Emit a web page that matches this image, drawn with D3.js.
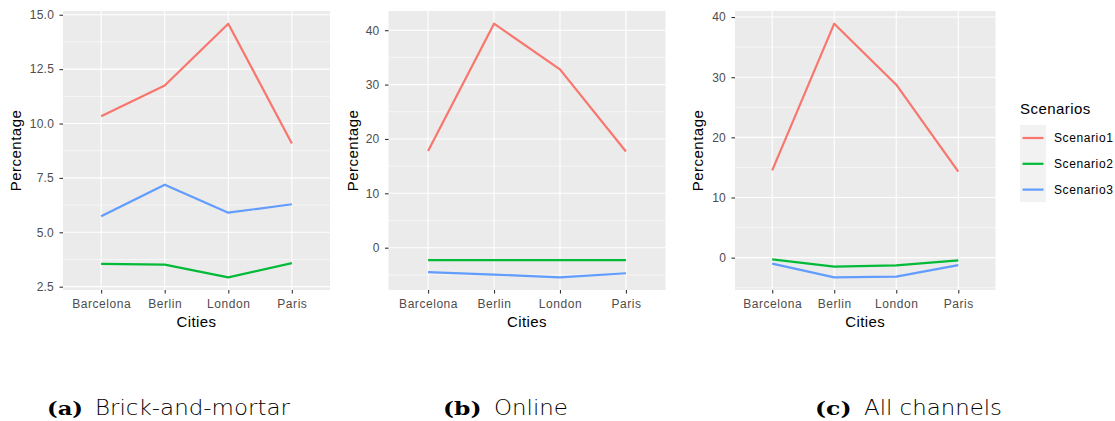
<!DOCTYPE html>
<html><head><meta charset="utf-8">
<script src="https://cdn.jsdelivr.net/npm/d3@7"></script>
<style>body{margin:0;background:#fff;} svg{display:block;}</style>
</head><body>
<svg id="c" width="1115" height="421"></svg>
<script>
const cities = ["Barcelona", "Berlin", "London", "Paris"];
const scenarios = ["Scenario1", "Scenario2", "Scenario3"];
const colors = ["#F8766D", "#00BA38", "#619CFF"];

// (a) Brick-and-mortar
const brickS1 = [10.33, 11.75, 14.59, 9.08];
const brickS2 = [3.55, 3.51, 2.93, 3.58];
const brickS3 = [5.74, 7.19, 5.90, 6.29];
const brickTicks = [2.5, 5, 7.5, 10, 12.5, 15];
const brickTickLabels = ["2.5", "5.0", "7.5", "10.0", "12.5", "15.0"];

// (b) Online
const onlineS1 = [17.8, 41.2, 32.8, 17.7];
const onlineS2 = [-2.3, -2.3, -2.3, -2.3];
const onlineS3 = [-4.5, -4.95, -5.45, -4.7];
const onlineTicks = [0, 10, 20, 30, 40];
const onlineTickLabels = ["0", "10", "20", "30", "40"];

// (c) All channels
const allS1 = [14.5, 38.9, 28.75, 14.3];
const allS2 = [-0.28, -1.5, -1.28, -0.45];
const allS3 = [-1.0, -3.27, -3.15, -1.23];
const allTicks = [0, 10, 20, 30, 40];
const allTickLabels = ["0", "10", "20", "30", "40"];

const captionLetters = ["(a)", "(b)", "(c)"];
const captionTexts = ["Brick-and-mortar", "Online", "All channels"];

const panels = [
  {series: [brickS1, brickS2, brickS3], ticks: brickTicks, labels: brickTickLabels,
   left: 63, right: 330, ylabX: 16,
   cap: {lx: 47, lw: 36, tx: 95, tw: 195}},
  {series: [onlineS1, onlineS2, onlineS3], ticks: onlineTicks, labels: onlineTickLabels,
   left: 388.5, right: 665.5, ylabX: 353,
   cap: {lx: 443, lw: 38.5, tx: 494, tw: 74}},
  {series: [allS1, allS2, allS3], ticks: allTicks, labels: allTickLabels,
   left: 735, right: 995.5, ylabX: 698,
   cap: {lx: 815, lw: 36.5, tx: 864, tw: 138}}
];
const panelTop = 11, panelBottom = 290;
const font = "'Liberation Sans', Arial, Helvetica, sans-serif";

const svg = d3.select("#c");

panels.forEach((p, pi) => {
  const g = svg.append("g");
  const x = d3.scalePoint().domain(cities).range([p.left, p.right]).padding(0.6);
  const all = p.series.flat();
  const lo = d3.min(all), hi = d3.max(all), sp = hi - lo;
  const y = d3.scaleLinear().domain([lo - 0.05 * sp, hi + 0.05 * sp]).range([panelBottom, panelTop]);

  g.append("rect").attr("x", p.left).attr("y", panelTop)
    .attr("width", p.right - p.left).attr("height", panelBottom - panelTop).attr("fill", "#EBEBEB");

  // minor gridlines
  const step = p.ticks[1] - p.ticks[0];
  const minors = [];
  const [d0, d1] = y.domain();
  for (let v = p.ticks[0] - step / 2; v <= p.ticks[p.ticks.length - 1] + step / 2 + 1e-9; v += step) {
    if (v >= d0 && v <= d1) minors.push(v);
  }
  g.selectAll(".minor").data(minors).enter().append("line")
    .attr("x1", p.left).attr("x2", p.right)
    .attr("y1", d => y(d)).attr("y2", d => y(d))
    .attr("stroke", "#fff").attr("stroke-width", 0.55);

  g.selectAll(".major").data(p.ticks).enter().append("line")
    .attr("x1", p.left).attr("x2", p.right)
    .attr("y1", d => y(d)).attr("y2", d => y(d))
    .attr("stroke", "#fff").attr("stroke-width", 1.1);

  g.selectAll(".vmajor").data(cities).enter().append("line")
    .attr("x1", d => x(d)).attr("x2", d => x(d))
    .attr("y1", panelTop).attr("y2", panelBottom)
    .attr("stroke", "#fff").attr("stroke-width", 1.1);

  // lines
  const line = d3.line().x((d, i) => x(cities[i])).y(d => y(d));
  p.series.forEach((s, si) => {
    g.append("path").datum(s).attr("d", line)
      .attr("fill", "none").attr("stroke", colors[si]).attr("stroke-width", 2.2)
      .attr("stroke-linejoin", "round");
  });

  // y axis
  const yAxis = d3.axisLeft(y).tickValues(p.ticks).tickSize(3.5).tickPadding(5.5)
    .tickFormat((d, i) => p.labels[i]);
  const ya = g.append("g").attr("transform", `translate(${p.left},0)`).call(yAxis);
  ya.select(".domain").remove();
  ya.selectAll("line").attr("stroke", "#333").attr("stroke-width", 1.1);
  ya.selectAll("text").attr("fill", "#4D4D4D").style("font-family", font).style("font-size", "12px")
    .style("letter-spacing", "0.2px");

  // x axis
  const xAxis = d3.axisBottom(x).tickSize(3.5).tickPadding(6);
  const xa = g.append("g").attr("transform", `translate(0,${panelBottom})`).call(xAxis);
  xa.select(".domain").remove();
  xa.selectAll("line").attr("stroke", "#333").attr("stroke-width", 1.1);
  xa.selectAll("text").attr("fill", "#4D4D4D").style("font-family", font).style("font-size", "12px")
    .style("letter-spacing", "0.55px");

  // axis titles
  g.append("text").attr("x", (p.left + p.right) / 2).attr("y", 327)
    .attr("text-anchor", "middle").style("font-family", font).style("font-size", "15px")
    .style("letter-spacing", "0.4px").text("Cities");
  g.append("text").attr("transform", `translate(${p.ylabX + 5},${(panelTop + panelBottom) / 2}) rotate(-90)`)
    .attr("text-anchor", "middle").style("font-family", font).style("font-size", "15px")
    .style("letter-spacing", "0.5px").text("Percentage");

  // caption
  g.append("text").attr("x", p.cap.lx).attr("y", 415)
    .style("font-family", "'DejaVu Serif', serif").style("font-weight", "bold").style("font-size", "19px")
    .attr("textLength", p.cap.lw).attr("lengthAdjust", "spacingAndGlyphs")
    .text(captionLetters[pi]);
  g.append("text").attr("x", p.cap.tx).attr("y", 415)
    .style("font-family", "'DejaVu Sans', sans-serif").style("font-weight", "200").style("font-size", "21px")
    .attr("textLength", p.cap.tw).attr("lengthAdjust", "spacingAndGlyphs")
    .text(captionTexts[pi]);
});

// legend
const lg = svg.append("g");
lg.append("text").attr("x", 1020).attr("y", 114).style("font-family", font).style("font-size", "15px")
  .style("letter-spacing", "0.45px").text("Scenarios");
lg.append("rect").attr("x", 1020).attr("y", 125).attr("width", 26).attr("height", 77).attr("fill", "#F2F2F2");
scenarios.forEach((s, i) => {
  const yy = 138 + i * 25.8;
  lg.append("line").attr("x1", 1022.5).attr("x2", 1043.5).attr("y1", yy).attr("y2", yy)
    .attr("stroke", colors[i]).attr("stroke-width", 2.2);
  lg.append("text").attr("x", 1054).attr("y", yy + 4.3).style("font-family", font).style("font-size", "12px")
    .style("letter-spacing", "0.6px").text(s);
});
</script>
</body></html>
